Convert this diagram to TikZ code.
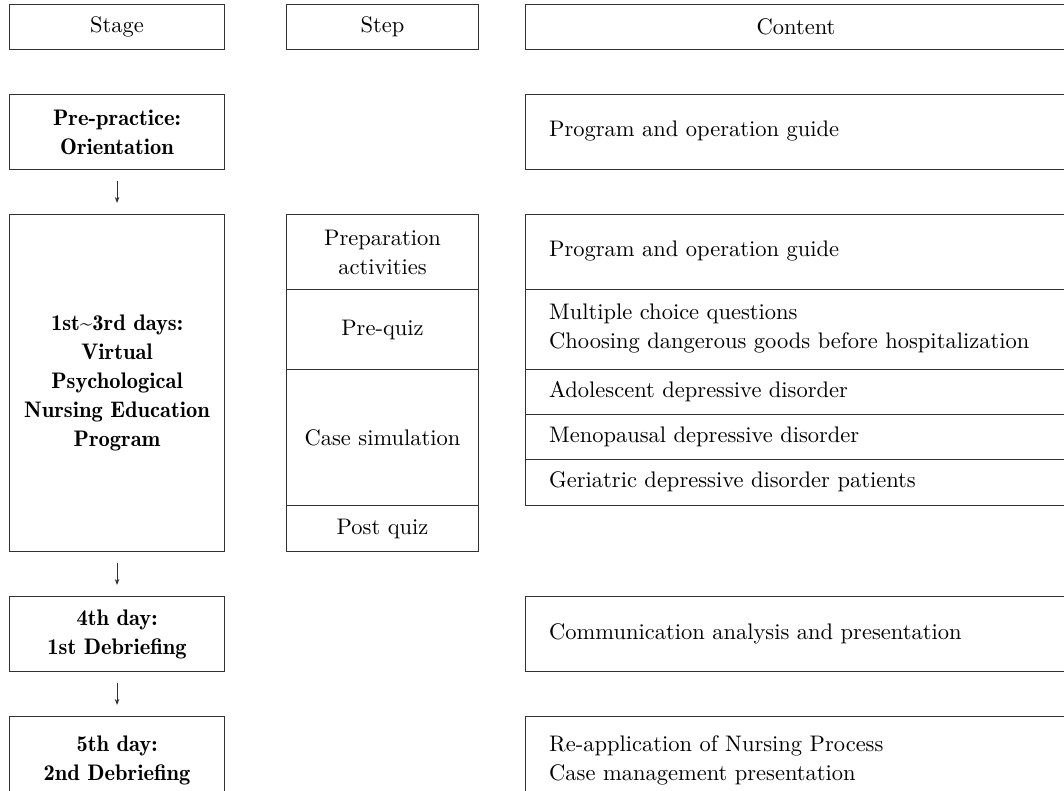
\documentclass[tikz,border=0pt]{standalone}
\usepackage{fontspec}
\setmainfont{lmroman10-regular.otf}[BoldFont=lmromandemi10-regular.otf]
\usetikzlibrary{arrows.meta}
\definecolor{linec}{RGB}{50,50,50}
\newcommand\mainsize{\fontsize{22.5}{29}\selectfont}
\tikzset{
  cell/.style={draw=linec, line width=1.1pt, rectangle, inner sep=0pt,
    anchor=north west, align=center, font=\mainsize},
  bcell/.style={cell, font=\mainsize\bfseries},
  ctext/.style={anchor=west, align=left, inner sep=0pt, font=\mainsize},
  flow/.style={draw=linec, line width=0.9pt,
    -{Stealth[length=6pt,width=4.5pt]}, shorten <=11pt, shorten >=11pt}
}
\begin{document}
\begin{tikzpicture}[x=1pt,y=-1pt]
\clip (0,0) rectangle (1064,790);
\fill[white] (0,0) rectangle (1064,790);
% header
\node[cell, minimum width=215pt, minimum height=45pt] (hstage) at (9,4) {Stage};
\node[cell, minimum width=192pt, minimum height=45pt] (hstep) at (286,4) {Step};
\node[cell, minimum width=541pt, minimum height=45pt] (hcont) at (525,4) {Content};
% stage column
\node[bcell, minimum width=215pt, minimum height=75pt] (pre) at (9,94) {Pre-practice:\\Orientation};
\node[bcell, minimum width=215pt, minimum height=337pt] (prog) at (9,214) {1st\textasciitilde3rd days:\\Virtual\\Psychological\\Nursing Education\\Program};
\node[bcell, minimum width=215pt, minimum height=75pt] (deb1) at (9,596) {4th day:\\1st Debriefing};
\node[bcell, minimum width=215pt, minimum height=88pt] (deb2) at (9,716) {5th day:\\2nd Debriefing};
\draw[flow] (pre) -- (prog);
\draw[flow] (prog) -- (deb1);
\draw[flow] (deb1) -- (deb2);
% step column
\node[cell, minimum width=192pt, minimum height=75pt] (sprep) at (286,214) {Preparation\\activities};
\node[cell, minimum width=192pt, minimum height=80pt] (squiz) at (286,289) {Pre-quiz};
\node[cell, minimum width=192pt, minimum height=136pt] (scase) at (286,369) {Case simulation};
\node[cell, minimum width=192pt, minimum height=46pt] (spost) at (286,505) {Post quiz};
% content column
\node[cell, minimum width=541pt, minimum height=75pt] (cpre) at (525,94) {};
\node[ctext] (tpre) at (549,131.5) {Program and operation guide};
\node[cell, minimum width=541pt, minimum height=75pt] (cguide) at (525,214) {};
\node[ctext] (tguide) at (549,251.5) {Program and operation guide};
\node[cell, minimum width=541pt, minimum height=80pt] (cmcq) at (525,289) {};
\node[ctext] (tmcq) at (549,329) {Multiple choice questions\\Choosing dangerous goods before hospitalization};
\node[cell, minimum width=541pt, minimum height=45pt] (cado) at (525,369) {};
\node[ctext] (tado) at (549,391.5) {Adolescent depressive disorder};
\node[cell, minimum width=541pt, minimum height=45pt] (cmeno) at (525,414) {};
\node[ctext] (tmeno) at (549,436.5) {Menopausal depressive disorder};
\node[cell, minimum width=541pt, minimum height=46pt] (cger) at (525,459) {};
\node[ctext] (tger) at (549,482) {Geriatric depressive disorder patients};
\node[cell, minimum width=541pt, minimum height=75pt] (ccom) at (525,596) {};
\node[ctext] (tcom) at (549,633.5) {Communication analysis and presentation};
\node[cell, minimum width=541pt, minimum height=88pt] (crea) at (525,716) {};
\node[ctext] (trea) at (549,760) {Re-application of Nursing Process\\Case management presentation};
\end{tikzpicture}
\end{document}
